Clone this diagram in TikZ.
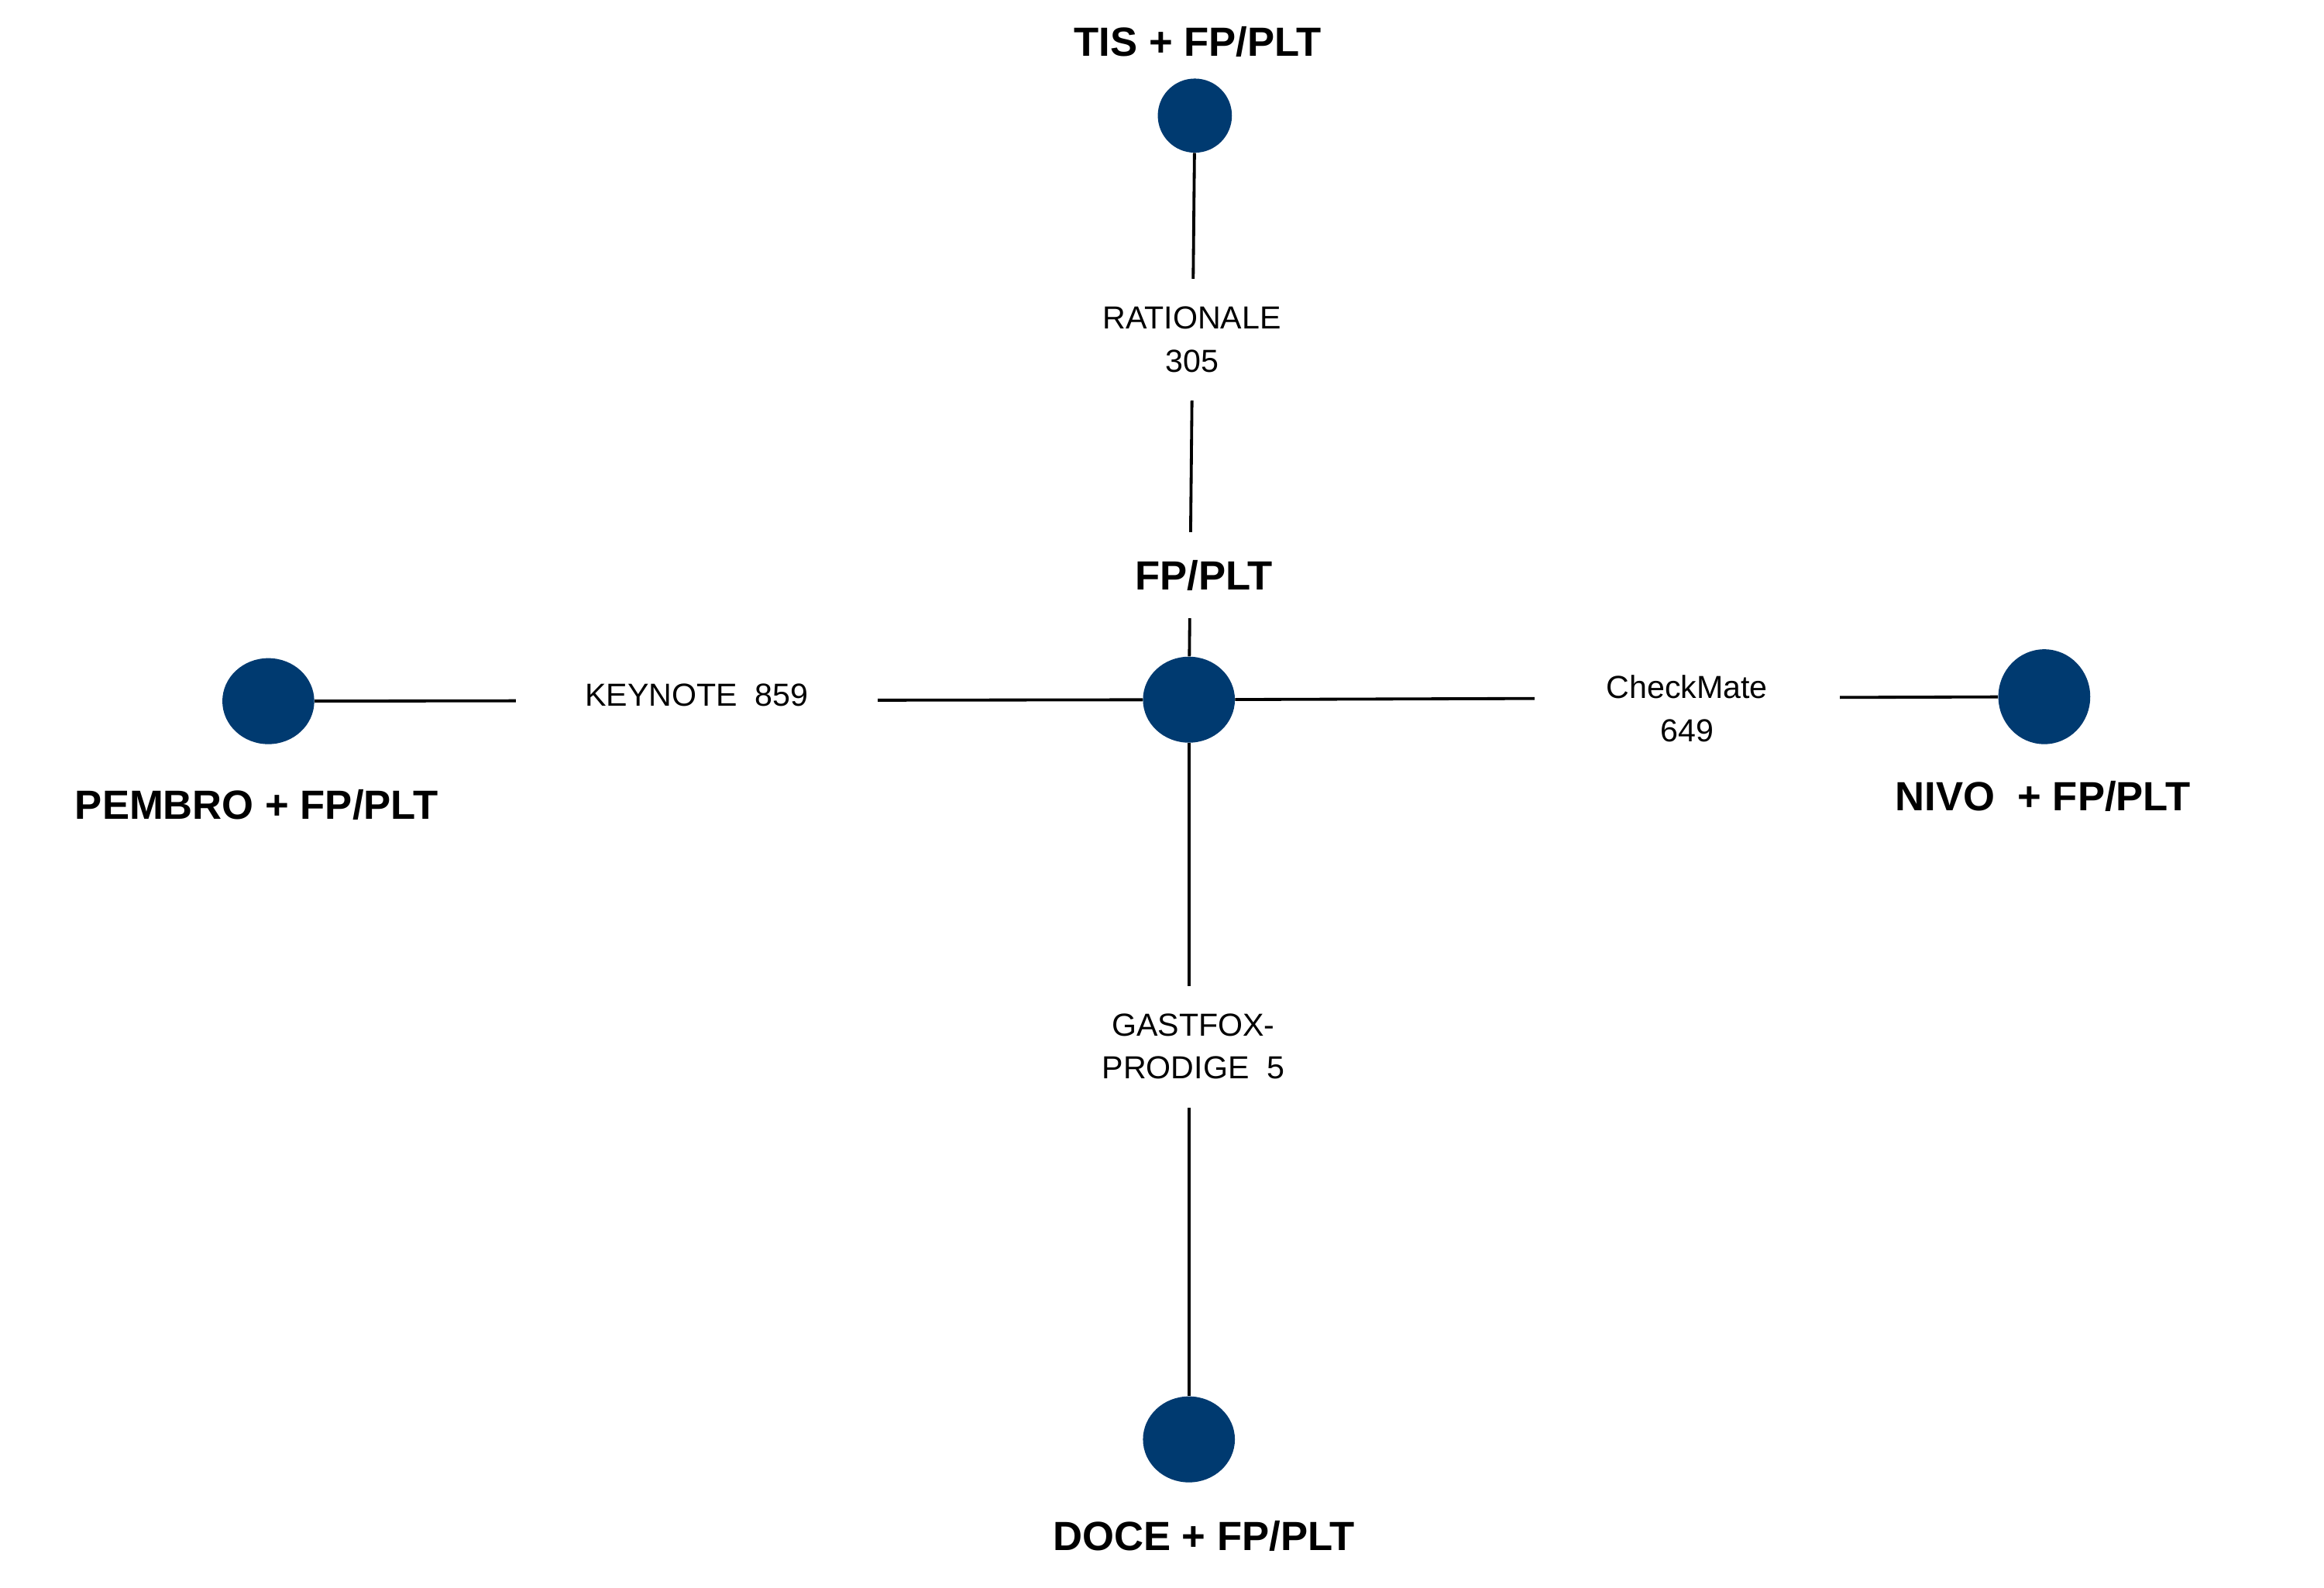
\documentclass[tikz,border=0pt]{standalone}
\usepackage{fontspec}
\setmainfont{Liberation Sans}
\usetikzlibrary{shapes.geometric}
\definecolor{navy}{HTML}{003A70}
\begin{document}
\begin{tikzpicture}[x=1pt,y=-1pt,
  dot/.style={ellipse,fill=navy,minimum width=62pt,minimum height=58pt,inner sep=0pt},
  lab/.style={font=\fontsize{27.5}{30}\selectfont\bfseries},
  elab/.style={font=\fontsize{21.5}{29}\selectfont,fill=white,align=center,inner sep=0pt},
  edge/.style={line width=2pt,black}]
\useasboundingbox[fill=white] (0,0) rectangle (1567.7,1071);
\node[dot,minimum width=50pt,minimum height=50pt] (tis) at (806,78) {};
\node[dot] (c) at (802,472) {};
\node[dot] (pem) at (181,473) {};
\node[dot,minimum height=64pt] (nivo) at (1379,470) {};
\node[dot] (doce) at (802,971) {};
\draw[edge] (tis) -- (c);
\draw[edge] (pem) -- (c);
\draw[edge] (c) -- (nivo);
\draw[edge] (c) -- (doce);
\node[lab] (ltis) at (808,28) {TIS + FP/PLT};
\node[lab,fill=white,minimum height=58pt,inner xsep=6pt] (lc) at (812,388) {FP/PLT};
\node[lab] (lpem) at (173,543) {PEMBRO + FP/PLT};
\node[lab] (lnivo) at (1378,537) {NIVO\ \ + FP/PLT};
\node[lab] (ldoce) at (812,1036) {DOCE + FP/PLT};
\node[elab,minimum height=82pt,minimum width=140pt] (e1) at (804,229) {RATIONALE\\305};
\node[elab,minimum width=244pt,minimum height=40pt] (e2) at (470,469) {KEYNOTE\ \ 859};
\node[elab,minimum width=206pt,minimum height=60pt] (e3) at (1138,478) {CheckMate\\649};
\node[elab,minimum height=82pt,minimum width=150pt] (e4) at (805,706) {GASTFOX-\\PRODIGE\ \ 5};
\end{tikzpicture}
\end{document}
